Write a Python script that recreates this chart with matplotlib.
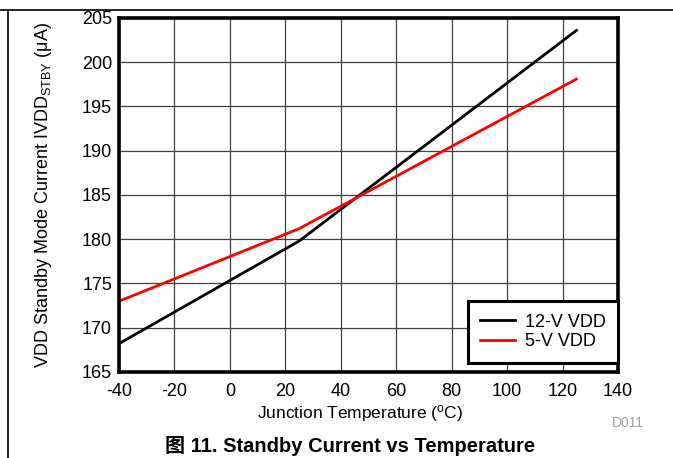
import matplotlib.pyplot as plt
from matplotlib.lines import Line2D

plt.rcParams['font.family'] = ['Liberation Sans', 'Noto Sans CJK SC', 'DejaVu Sans']
plt.rcParams['mathtext.fontset'] = 'custom'
plt.rcParams['mathtext.rm'] = 'Liberation Sans'
plt.rcParams['axes.unicode_minus'] = False

# data
temp = [-40, 25, 125]
i_12v = [168.2, 179.8, 203.6]
i_5v = [173.0, 181.2, 198.1]
xticks = list(range(-40, 141, 20))
yticks = list(range(165, 206, 5))

fig = plt.figure(figsize=(6.73, 4.58), dpi=100)
ax = fig.add_axes([0.1768, 0.1878, 0.7415, 0.7729])

ax.plot(temp, i_12v, color='black', lw=2, label='12-V VDD')
ax.plot(temp, i_5v, color='#ff0000', lw=2, label='5-V VDD')

ax.set_xlim(-40, 140)
ax.set_ylim(165, 205)
ax.set_xticks(xticks)
ax.set_yticks(yticks)
ax.grid(True, color='#404040', lw=0.9)
ax.set_axisbelow(True)
ax.tick_params(length=0, labelsize=13)
ax.tick_params(axis='x', pad=8)
ax.tick_params(axis='y', pad=5)
for s in ax.spines.values():
    s.set_linewidth(2.6)

ax.set_xlabel('Junction Temperature ($\\mathregular{^o}$C)', fontsize=12.5)
ax.set_ylabel('VDD Standby Mode Current IVDD$\\mathregular{_{STBY}}$ ($\\mathregular{\\mu}$A)',
              fontsize=13)
ax.xaxis.set_label_coords(0.483, -0.088)
ax.yaxis.set_label_coords(-0.152, 0.5)
ax.yaxis.label.set_va('center')

leg = ax.legend(loc='lower right', bbox_to_anchor=(1.0, 0.025), fontsize=13,
                fancybox=False, framealpha=1, edgecolor='black', borderpad=0.7,
                handlelength=1.9, handletextpad=0.55, borderaxespad=0.0,
                labelspacing=0.15)
leg.get_frame().set_linewidth(2.2)

fig.text(0.933, 0.076, 'D011', color='#a0a0a0', fontsize=10, ha='center', va='center')
fig.text(0.52, 0.026, '图 11. Standby Current vs Temperature', fontsize=14.5,
         fontweight='bold', ha='center', va='center')

# page frame lines
fig.add_artist(Line2D([0, 1], [0.978, 0.978], color='black', lw=1.2, transform=fig.transFigure))
fig.add_artist(Line2D([0.012, 0.012], [0, 0.978], color='black', lw=1.2, transform=fig.transFigure))

fig.savefig('out.png', dpi=100)
